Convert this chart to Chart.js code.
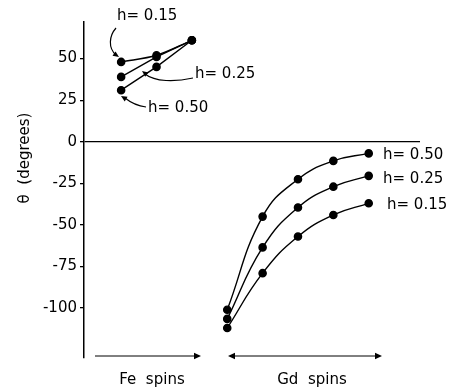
<!DOCTYPE html>
<html><head><meta charset="utf-8">
<script src="https://cdn.jsdelivr.net/npm/chart.js@4"></script>
<style>html,body{margin:0;padding:0;background:#fff}#wrap{width:449px;height:392px}</style>
</head><body><div id="wrap"><canvas id="c" width="449" height="392"></canvas></div>
<script>
// Data
const feX = [1, 2, 3];                 // Fe spin sites
const gdX = [4, 5, 6, 7, 8];           // Gd spin sites
const feH015 = [48, 52, 61];
const feH025 = [39, 51, 61];
const feH050 = [31, 45, 61];
const gdH050 = [-101, -45, -22.5, -11.5, -7];
const gdH025 = [-106.5, -63.5, -39.5, -27, -20.5];
const gdH015 = [-112, -79, -57, -44, -37];
const yTicks = [50, 25, 0, -25, -50, -75, -100];
const seriesLabels = ['h= 0.15', 'h= 0.25', 'h= 0.50'];

const FONT = '"DejaVu Sans", sans-serif';
function pts(xs, ys) { return xs.map((x, i) => ({x: x, y: ys[i]})); }
function ds(label, xs, ys, tension) {
  return {label, data: pts(xs, ys), borderColor: '#000', backgroundColor: '#000',
    borderWidth: 1.4, pointRadius: 3.6, pointHoverRadius: 3.6, tension: tension, fill: false};
}

function arrowHead(ctx, x, y, ang, size) {
  ctx.save(); ctx.translate(x, y); ctx.rotate(ang);
  ctx.beginPath(); ctx.moveTo(0, 0); ctx.lineTo(-size, -size * 0.45); ctx.lineTo(-size, size * 0.45); ctx.closePath();
  ctx.fill(); ctx.restore();
}

const annot = {
  id: 'annot',
  afterDraw(chart) {
    const ctx = chart.ctx;
    ctx.save();
    ctx.fillStyle = '#000'; ctx.strokeStyle = '#000'; ctx.lineWidth = 1.2;
    ctx.font = '15px ' + FONT; ctx.textBaseline = 'middle'; ctx.textAlign = 'left';
    // Fe labels
    ctx.fillText(seriesLabels[0], 117, 16);
    ctx.fillText(seriesLabels[1], 195, 74);
    ctx.fillText(seriesLabels[2], 148, 108);
    // Gd labels
    ctx.fillText(seriesLabels[2], 383, 155);
    ctx.fillText(seriesLabels[1], 383, 179);
    ctx.fillText(seriesLabels[0], 387, 205);
    // curved pointer arrows
    ctx.beginPath(); ctx.moveTo(116, 28); ctx.bezierCurveTo(109, 36, 108, 48, 116, 55); ctx.stroke();
    arrowHead(ctx, 119, 57, 0.6, 6);
    ctx.beginPath(); ctx.moveTo(193, 78); ctx.bezierCurveTo(175, 82, 155, 82, 145, 74); ctx.stroke();
    arrowHead(ctx, 142, 71, -2.5, 6);
    ctx.beginPath(); ctx.moveTo(146, 107); ctx.bezierCurveTo(138, 106, 130, 102, 125, 98); ctx.stroke();
    arrowHead(ctx, 121, 96, -2.6, 6);
    // bottom arrows
    ctx.lineWidth = 1;
    ctx.beginPath(); ctx.moveTo(95, 356); ctx.lineTo(196, 356); ctx.stroke();
    arrowHead(ctx, 201, 356, 0, 7);
    ctx.beginPath(); ctx.moveTo(232, 356); ctx.lineTo(377, 356); ctx.stroke();
    arrowHead(ctx, 382, 356, 0, 7);
    arrowHead(ctx, 228, 356, Math.PI, 7);
    ctx.textAlign = 'center';
    ctx.fillText('Fe  spins', 152, 380);
    ctx.fillText('Gd  spins', 312, 380);
    // y title
    ctx.translate(25, 158); ctx.rotate(-Math.PI / 2);
    ctx.fillText('θ  (degrees)', 0, 0);
    ctx.restore();
  }
};

new Chart(document.getElementById('c'), {
  type: 'line',
  data: {datasets: [
    ds(seriesLabels[0], feX, feH015, 0.35),
    ds(seriesLabels[1], feX, feH025, 0),
    ds(seriesLabels[2], feX, feH050, 0),
    ds(seriesLabels[2], gdX, gdH050, 0.45),
    ds(seriesLabels[1], gdX, gdH025, 0.45),
    ds(seriesLabels[0], gdX, gdH015, 0.45)
  ]},
  options: {
    responsive: false, animation: false, devicePixelRatio: 1,
    layout: {padding: {top: 22, right: 29, bottom: 34, left: 0}},
    plugins: {legend: {display: false}, tooltip: {enabled: false}},
    scales: {
      x: {type: 'linear', display: false, min: -0.05, max: 9.45},
      y: {
        min: -130, max: 72,
        afterBuildTicks(s) { s.ticks = yTicks.map(v => ({value: v})); },
        afterFit(s) { s.width = 84; },
        border: {display: true, color: '#000', width: 1.5},
        grid: {drawOnChartArea: true, color: c => (c.tick && c.tick.value === 0) ? '#000' : 'rgba(0,0,0,0)',
               lineWidth: 1.3, drawTicks: true, tickLength: 4, tickColor: '#000'},
        ticks: {color: '#000', font: {family: FONT, size: 15}, padding: 3,
                callback: v => String(v)}
      }
    }
  },
  plugins: [annot]
});
</script></body></html>
